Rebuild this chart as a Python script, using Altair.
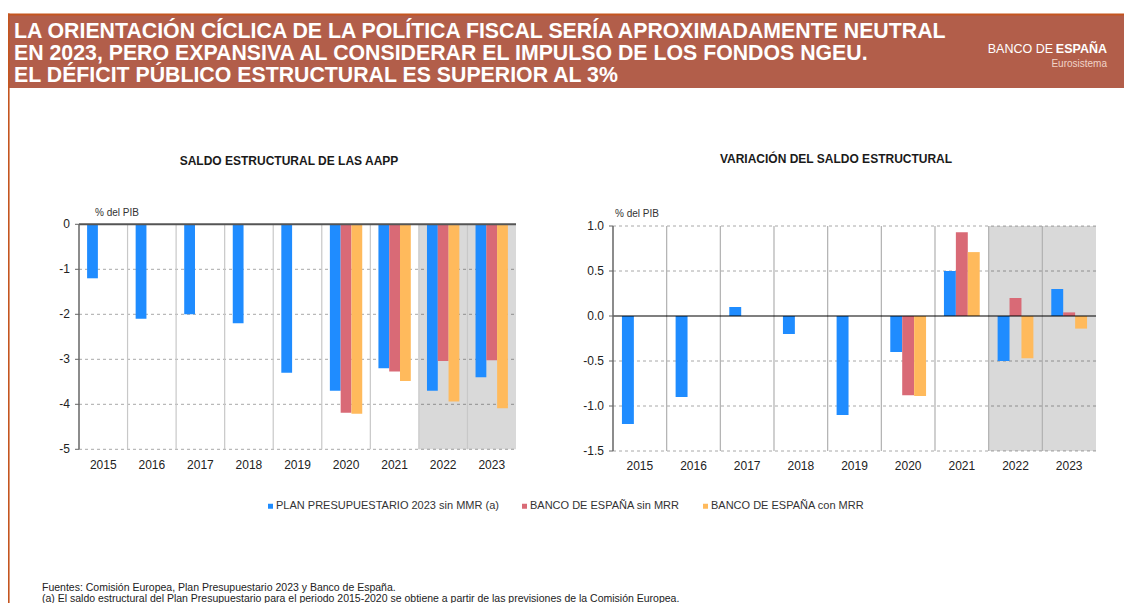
import altair as alt
import pandas as pd

FONT = "Liberation Sans"

years = ["2015", "2016", "2017", "2018", "2019", "2020", "2021", "2022", "2023"]
series = ["PLAN PRESUPUESTARIO 2023 sin MMR (a)", "BANCO DE ESPAÑA sin MRR", "BANCO DE ESPAÑA con MRR"]
colors = ["#1f8cff", "#d96a76", "#ffba5c"]
shaded_years = ["2022", "2023"]

# Saldo estructural (% del PIB)
saldo_plan = [-1.2, -2.1, -2.0, -2.2, -3.3, -3.7, -3.2, -3.7, -3.4]
saldo_be_sin = [None, None, None, None, None, -4.19, -3.27, -3.04, -3.02]
saldo_be_con = [None, None, None, None, None, -4.21, -3.48, -3.94, -4.09]

# Variación del saldo estructural
var_plan = [-1.2, -0.9, 0.1, -0.2, -1.1, -0.4, 0.5, -0.5, 0.3]
var_be_sin = [None, None, None, None, None, -0.88, 0.93, 0.2, 0.04]
var_be_con = [None, None, None, None, None, -0.89, 0.71, -0.47, -0.14]

saldo_ticks = [-5, -4, -3, -2, -1, 0]
saldo_tick_labels = ["-5", "-4", "-3", "-2", "-1", "0"]
var_ticks = [-1.5, -1.0, -0.5, 0.0, 0.5, 1.0]
var_tick_labels = ["-1.5", "-1.0", "-0.5", "0.0", "0.5", "1.0"]

title_lines = [
    "LA ORIENTACIÓN CÍCLICA DE LA POLÍTICA FISCAL SERÍA APROXIMADAMENTE NEUTRAL",
    "EN 2023, PERO EXPANSIVA AL CONSIDERAR EL IMPULSO DE LOS FONDOS NGEU.",
    "EL DÉFICIT PÚBLICO ESTRUCTURAL ES SUPERIOR AL 3%",
]
footer_lines = [
    "Fuentes: Comisión Europea, Plan Presupuestario 2023 y Banco de España.",
    "(a) El saldo estructural del Plan Presupuestario para el periodo 2015-2020 se obtiene a partir de las previsiones de la Comisión Europea.",
]


def long(vals_list):
    rows = []
    for s, vals in zip(series, vals_list):
        for y, v in zip(years, vals):
            if v is not None:
                rows.append({"year": y, "series": s, "value": v})
    return pd.DataFrame(rows)


legend = alt.Legend(
    orient="none", legendX=257, legendY=492.5, direction="horizontal", title=None,
    symbolType="square", symbolSize=25, symbolStrokeWidth=0, labelFontSize=11,
    labelFont=FONT, labelColor="#333", columnPadding=20, labelOffset=0, labelLimit=400,
)
color_enc = alt.Color("series:N", scale=alt.Scale(domain=series, range=colors), legend=legend)


def panel(df, x0, x1, y_domain, y_bottom, y_top, ticks, tick_labels, xlab_y,
          sep_color, zero_color, zero_width):
    xs = alt.Scale(domain=years, range=[x0, x1], paddingInner=0, paddingOuter=0)
    ys = alt.Scale(domain=y_domain, range=[y_bottom, y_top], nice=False, zero=False)
    tick_df = pd.DataFrame({"v": ticks, "lab": tick_labels})
    grid_df = tick_df[tick_df["v"] != 0]

    grid = alt.Chart(grid_df).mark_rule(color="#a8a8a8", strokeDash=[3, 3], strokeWidth=1).encode(
        y=alt.Y("v:Q", scale=ys, axis=None),
        x=alt.value(x0), x2=alt.value(x1),
    )
    shade = alt.Chart(pd.DataFrame({"year": shaded_years})).mark_rect(color="black", opacity=0.15).encode(
        x=alt.X("year:N", scale=xs, axis=None),
        y=alt.Y(datum=y_domain[1], scale=ys, axis=None),
        y2=alt.Y2(datum=y_domain[0]),
    )
    seps = alt.Chart(pd.DataFrame({"year": years[1:]})).mark_rule(color=sep_color, strokeWidth=1.2).encode(
        x=alt.X("year:N", scale=xs, axis=None, bandPosition=0),
        y=alt.Y(datum=y_domain[1], scale=ys, axis=None),
        y2=alt.Y2(datum=y_domain[0]),
    )
    bars = alt.Chart(df).mark_bar().encode(
        x=alt.X("year:N", scale=xs, axis=None),
        xOffset=alt.XOffset("series:N", scale=alt.Scale(domain=series, paddingInner=0, paddingOuter=0.75)),
        y=alt.Y("value:Q", scale=ys, axis=None),
        y2=alt.Y2(datum=0),
        color=color_enc,
    )
    zero = alt.Chart(pd.DataFrame({"v": [0]})).mark_rule(color=zero_color, strokeWidth=zero_width).encode(
        y=alt.Y("v:Q", scale=ys, axis=None),
        x=alt.value(x0), x2=alt.value(x1),
    )
    axis_line = alt.Chart(pd.DataFrame({"v": [0]})).mark_rule(color="#666", strokeWidth=1.5).encode(
        x=alt.value(x0),
        y=alt.Y(datum=y_domain[1], scale=ys, axis=None),
        y2=alt.Y2(datum=y_domain[0]),
    )
    yticks = alt.Chart(tick_df).mark_rule(color="#666", strokeWidth=1).encode(
        y=alt.Y("v:Q", scale=ys, axis=None),
        x=alt.value(x0 - 4), x2=alt.value(x0),
    )
    ylabels = alt.Chart(tick_df).mark_text(
        align="right", baseline="middle", font=FONT, fontSize=12, color="#222",
    ).encode(
        y=alt.Y("v:Q", scale=ys, axis=None),
        x=alt.value(x0 - 9),
        text="lab:N",
    )
    xlabels = alt.Chart(pd.DataFrame({"year": years})).mark_text(
        align="center", baseline="middle", font=FONT, fontSize=12, color="#222",
    ).encode(
        x=alt.X("year:N", scale=xs, axis=None),
        y=alt.value(xlab_y),
        text="year:N",
    )
    return alt.layer(grid, shade, seps, bars, zero, axis_line, yticks, ylabels, xlabels)


one = pd.DataFrame({"k": [0]})

header = alt.Chart(one).mark_rect(color="#b25e4a").encode(
    x=alt.value(0), x2=alt.value(1116), y=alt.value(7), y2=alt.value(80))
topline = alt.Chart(one).mark_rect(color="#c4551f").encode(
    x=alt.value(0), x2=alt.value(1116), y=alt.value(5.5), y2=alt.value(7.5))
leftline = alt.Chart(one).mark_rect(color="#c4551f").encode(
    x=alt.value(0), x2=alt.value(1.6), y=alt.value(5.5), y2=alt.value(595))
title_txt = alt.Chart(one).mark_text(
    text=title_lines, align="left", baseline="alphabetic", font=FONT, fontSize=21.3,
    fontWeight="bold", color="white", lineHeight=22,
).encode(x=alt.value(6), y=alt.value(30))
banco = alt.Chart(one).mark_text(
    text="BANCO DE", align="right", baseline="middle", font=FONT, fontSize=12.5, color="white",
).encode(x=alt.value(1045), y=alt.value(41))
espana = alt.Chart(one).mark_text(
    text="ESPAÑA", align="right", baseline="middle", font=FONT, fontSize=12.5, fontWeight="bold", color="white",
).encode(x=alt.value(1099), y=alt.value(41))
euro = alt.Chart(one).mark_text(
    text="Eurosistema", align="right", baseline="middle", font=FONT, fontSize=10, color="#f1d3c8",
).encode(x=alt.value(1099), y=alt.value(55.5))

t1 = alt.Chart(one).mark_text(
    text="SALDO ESTRUCTURAL DE LAS AAPP", align="center", baseline="middle", font=FONT,
    fontSize=12, fontWeight="bold", color="#1a1a1a",
).encode(x=alt.value(281), y=alt.value(153))
t2 = alt.Chart(one).mark_text(
    text="VARIACIÓN DEL SALDO ESTRUCTURAL", align="center", baseline="middle", font=FONT,
    fontSize=12, fontWeight="bold", color="#1a1a1a",
).encode(x=alt.value(828), y=alt.value(150.5))
u1 = alt.Chart(one).mark_text(
    text="% del PIB", align="left", baseline="middle", font=FONT, fontSize=10, color="#333",
).encode(x=alt.value(87), y=alt.value(205))
u2 = alt.Chart(one).mark_text(
    text="% del PIB", align="left", baseline="middle", font=FONT, fontSize=10, color="#333",
).encode(x=alt.value(607), y=alt.value(205.5))
foot = alt.Chart(one).mark_text(
    text=footer_lines, align="left", baseline="alphabetic", font=FONT, fontSize=10.5,
    color="#222", lineHeight=11,
).encode(x=alt.value(34), y=alt.value(582.5))

p1 = panel(long([saldo_plan, saldo_be_sin, saldo_be_con]), 71, 508, [-5, 0], 441.3, 216.3,
           saldo_ticks, saldo_tick_labels, 456.5, "#c8c8c8", "#555", 2)
p2 = panel(long([var_plan, var_be_sin, var_be_con]), 605, 1088, [-1.5, 1.0], 443, 218,
           var_ticks, var_tick_labels, 458, "#b0b0b0", "#000", 1.2)

chart = alt.layer(
    header, topline, leftline, title_txt, banco, espana, euro,
    p1, p2, t1, t2, u1, u2, foot,
).resolve_scale(
    x="independent", y="independent", xOffset="independent"
).properties(
    width=1116, height=595, autosize=alt.AutoSizeParams(type="none"), padding=0, background="white",
).configure_view(stroke="transparent")

chart.save("out.html", embed_options={"renderer": "svg", "actions": False})
